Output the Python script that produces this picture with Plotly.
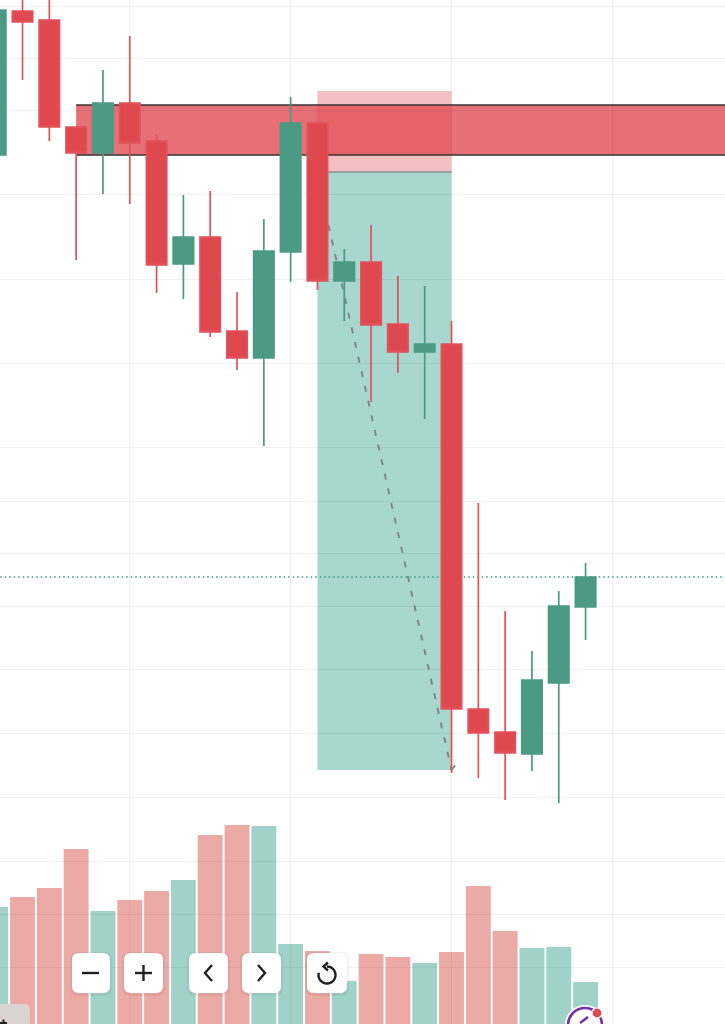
import numpy as np
import plotly.graph_objects as go

W, H = 725, 1024

# --- candles, no price labels on the picture so values are read as chart units ---
candle_x = list(range(23))
opens = [869, 1013, 1004, 897, 871, 921, 883, 760, 787, 693, 666, 772, 901, 743, 762, 700, 672, 680, 315, 292, 270, 341, 417]
highs = [1030, 1030, 1030, 897, 954, 988, 890, 829, 833, 732, 805, 927, 904, 775, 799, 748, 738, 703, 521, 413, 373, 433, 461]
lows = [869, 944, 883, 764, 830, 820, 731, 725, 687, 654, 578, 742, 734, 703, 622, 651, 605, 251, 246, 224, 253, 221, 384]
closes = [1014, 1002, 897, 871, 921, 881, 759, 787, 692, 666, 773, 901, 743, 762, 699, 672, 680, 315, 291, 271, 344, 418, 447]
volumes = [117, 127, 136, 175, 113, 124, 133, 144, 189, 199, 198, 80, 73, 43, 70, 67, 61, 72, 138, 93, 76, 77, 42]

# --- gridlines ---
grid_prices = [1018, 966, 914, 830, 745, 661, 577, 523, 471, 418, 355, 291, 227, 163, 110, 57]
grid_times = [5, 11, 17, 23]

# --- drawing tools on the chart ---
zone_start = 3
zone_low, zone_high = 869, 919
trade_start, trade_end = 12, 17
stop_price, entry_price, target_price = 933, 852, 254
last_price = 447
path_x = [12.41, 17, 17.22]
path_y = [799, 254, 262]

GREEN = "#4a9a84"
RED = "#e0484f"
vol_colors = ["rgba(17,142,122,.4)" if c >= o else "rgba(213,66,59,.45)" for o, c in zip(opens, closes)]

fig = go.Figure()
fig.add_trace(go.Bar(x=candle_x, y=volumes, width=0.93, marker=dict(color=vol_colors, line=dict(width=0))))
fig.add_trace(go.Candlestick(
    x=candle_x, open=opens, high=highs, low=lows, close=closes,
    whiskerwidth=0,
    increasing=dict(fillcolor=GREEN, line=dict(color=GREEN, width=1.7)),
    decreasing=dict(fillcolor=RED, line=dict(color="#e2525a", width=1.7)),
))

shapes = [
    # trade box
    dict(type="rect", x0=trade_start, x1=trade_end, y0=entry_price, y1=stop_price, layer="below",
         fillcolor="rgba(224,72,79,.35)", line_width=0),
    dict(type="rect", x0=trade_start, x1=trade_end, y0=target_price, y1=entry_price, layer="below",
         fillcolor="rgba(34,154,133,.4)", line_width=0),
    dict(type="line", x0=trade_start, x1=trade_end, y0=entry_price, y1=entry_price, layer="below",
         line=dict(color="rgba(90,110,110,.6)", width=1.5)),
    # supply zone
    dict(type="rect", x0=zone_start, x1=27.3, y0=zone_low, y1=zone_high, layer="below",
         fillcolor="rgba(224,72,79,.78)", line_width=0),
    dict(type="line", x0=zone_start, x1=27.3, y0=zone_high, y1=zone_high, layer="below", line=dict(color="#333", width=1.3)),
    dict(type="line", x0=zone_start, x1=27.3, y0=zone_low, y1=zone_low, layer="below", line=dict(color="#333", width=1.3)),
    # last price
    dict(type="line", x0=0, x1=27.3, y0=last_price, y1=last_price, layer="below",
         line=dict(color="#2f9a84", width=1.5, dash="1.5px,3px")),
]
for i in range(len(path_x) - 1):
    shapes.append(dict(type="line", x0=path_x[i], x1=path_x[i + 1], y0=path_y[i], y1=path_y[i + 1], layer="below",
                       line=dict(color="#807f86", width=1.8, dash="6px,9px")))


# --- the app's buttons over the chart, all in page pixels ---
def px(x, y):
    return f"{x / W:.5f},{1 - y / H:.5f}"


def rounded(x0, y0, x1, y1, r):
    return (f"M {px(x0 + r, y0)} L {px(x1 - r, y0)} Q {px(x1, y0)} {px(x1, y0 + r)} "
            f"L {px(x1, y1 - r)} Q {px(x1, y1)} {px(x1 - r, y1)} L {px(x0 + r, y1)} "
            f"Q {px(x0, y1)} {px(x0, y1 - r)} L {px(x0, y0 + r)} Q {px(x0, y0)} {px(x0 + r, y0)} Z")


def poly(points):
    return "M " + " L ".join(px(x, y) for x, y in points)


def paper_path(path, **kw):
    return dict(type="path", xref="paper", yref="paper", path=path, layer="above", **kw)


def circle(cx, cy, r, **kw):
    return dict(type="circle", xref="paper", yref="paper", layer="above",
                x0=(cx - r) / W, x1=(cx + r) / W, y0=1 - (cy + r) / H, y1=1 - (cy - r) / H, **kw)


buttons = [(72, 110), (124, 163), (189, 228), (242, 281), (307, 347)]
for x0, x1 in buttons:
    shapes.append(paper_path(rounded(x0 - 2, 952, x1 + 2, 996, 8), fillcolor="rgba(0,0,0,.05)", line_width=0))
    shapes.append(paper_path(rounded(x0, 953, x1, 993, 7), fillcolor="white", line_width=0))

icon = dict(color="#222", width=2.4)
arc = np.radians(np.linspace(90, -195, 30))
icons = [
    poly([(82, 973), (99, 973)]),
    poly([(135, 973), (152, 973)]),
    poly([(143.5, 965), (143.5, 981)]),
    poly([(212, 965), (205, 973), (212, 981)]),
    poly([(258, 965), (265, 973), (258, 981)]),
    poly([(327 + 8.5 * np.cos(a), 975 - 8.5 * np.sin(a)) for a in arc]),
    poly([(328, 962.5), (323.5, 966.5), (328, 970.5)]),
]
for path in icons:
    shapes.append(paper_path(path, line=icon))

# cut-off chip bottom left and round badge bottom right
shapes.append(paper_path(rounded(-8, 1004, 30, 1040, 6), fillcolor="#dbd3d0", line_width=0))
shapes.append(paper_path(poly([(0, 1023), (7, 1023)]), line=dict(color="#222", width=2)))
shapes.append(paper_path(poly([(3.5, 1019.5), (3.5, 1026)]), line=dict(color="#222", width=2)))
shapes.append(circle(585, 1025, 20, fillcolor="white", line_width=0))
shapes.append(circle(585, 1025, 17, fillcolor="white", line=dict(color="#7b2ea6", width=2.6)))
shapes.append(paper_path(poly([(580, 1023), (588, 1017)]), line=dict(color="#7b2ea6", width=2.6)))
shapes.append(circle(597, 1013, 5, fillcolor="#e0484f", line=dict(color="white", width=1.2)))

grid = dict(showgrid=True, gridcolor="rgba(0,0,0,.055)", gridwidth=1, zeroline=False, showticklabels=False, ticks="", showline=False)
fig.update_layout(
    width=W, height=H,
    margin=dict(l=0, r=0, t=0, b=0),
    paper_bgcolor="white", plot_bgcolor="white",
    showlegend=False, boxgap=0.24, boxgroupgap=0,
    shapes=shapes,
    xaxis=dict(range=[0.16, 27.2], tickmode="array", tickvals=grid_times, rangeslider_visible=False, **grid),
    yaxis=dict(range=[0, H], tickmode="array", tickvals=grid_prices, **grid),
)

fig.write_html("out.html", config={"displayModeBar": False},
               post_script="document.body.style.margin = '0'; document.body.style.overflow = 'hidden';")
